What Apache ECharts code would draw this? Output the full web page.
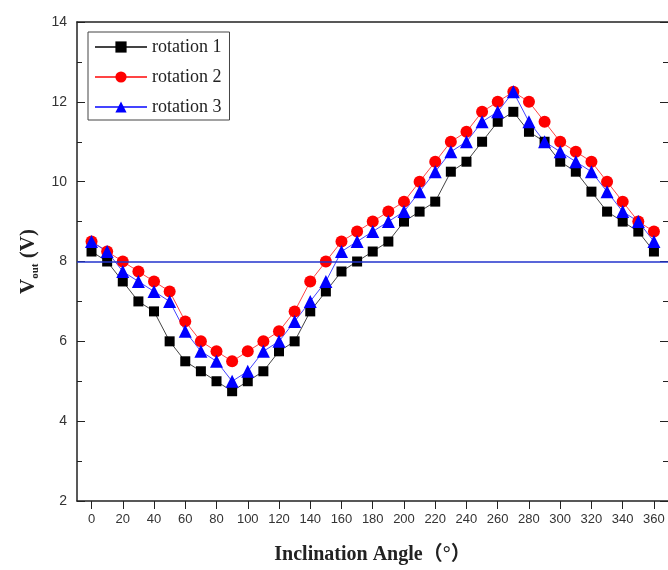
<!DOCTYPE html>
<html>
<head>
<meta charset="utf-8">
<script src="https://cdn.jsdelivr.net/npm/echarts@6/dist/echarts.min.js"></script>
<style>
html,body{margin:0;padding:0;background:#fff;}
#main{width:668px;height:570px;}
</style>
</head>
<body>
<div id="main"></div>
<script>
var angles = [0,10,20,30,40,50,60,70,80,90,100,110,120,130,140,150,160,170,180,
	190,200,210,220,230,240,250,260,270,280,290,300,310,320,330,340,350,360];
var rotation1 = [8.25,8.0,7.5,7.0,6.75,6.0,5.5,5.25,5.0,4.75,5.0,5.25,5.75,6.0,6.75,7.25,7.75,8.0,8.25,
	8.5,9.0,9.25,9.5,10.25,10.5,11.0,11.5,11.75,11.25,11.0,10.5,10.25,9.75,9.25,9.0,8.75,8.25];
var rotation2 = [8.5,8.25,8.0,7.75,7.5,7.25,6.5,6.0,5.75,5.5,5.75,6.0,6.25,6.75,7.5,8.0,8.5,8.75,9.0,
	9.25,9.5,10.0,10.5,11.0,11.25,11.75,12.0,12.25,12.0,11.5,11.0,10.75,10.5,10.0,9.5,9.0,8.75];
var rotation3 = [8.5,8.25,7.75,7.5,7.25,7.0,6.25,5.75,5.5,5.0,5.25,5.75,6.0,6.5,7.0,7.5,8.25,8.5,8.75,
	9.0,9.25,9.75,10.25,10.75,11.0,11.5,11.75,12.25,11.5,11.0,10.75,10.5,10.25,9.75,9.25,9.0,8.5];
var xTicks = [0,20,40,60,80,100,120,140,160,180,200,220,240,260,280,300,320,340,360];
var refLine = 8;

function pairs(vals) {
	var out = [];
	for (var i = 0; i < angles.length; i++) out.push([angles[i], vals[i]]);
	return out;
}

var chart = echarts.init(document.getElementById('main'));
var option = {
	animation: false,
	backgroundColor: '#fff',
	grid: { left: 77, right: 0, top: 22, bottom: 66 },
	legend: {
		orient: 'vertical',
		left: 88,
		top: 32,
		padding: [6, 8, 4, 6],
		itemGap: 12,
		itemWidth: 52,
		itemHeight: 14,
		borderColor: '#444',
		borderWidth: 1,
		textStyle: { fontFamily: 'Liberation Serif', fontSize: 18, color: '#222' },
		data: ['rotation 1', 'rotation 2', 'rotation 3']
	},
	xAxis: [{
		type: 'value',
		min: -9.3,
		max: 369,
		name: 'Inclination Angle（°）',
		nameLocation: 'middle',
		nameGap: 44,
		nameTextStyle: { fontFamily: 'Liberation Serif, Noto Sans CJK SC', fontWeight: 'bold', fontSize: 20, color: '#222' },
		axisLine: { lineStyle: { color: '#222', width: 1.5 } },
		axisTick: { show: true, inside: false, length: 8, customValues: xTicks, lineStyle: { color: '#222' } },
		axisLabel: { customValues: xTicks, fontFamily: 'Liberation Sans Narrow, Liberation Sans', fontSize: 13, color: '#333', margin: 12 },
		splitLine: { show: false }
	}, {
		type: 'value',
		position: 'top',
		min: -9.3,
		max: 369,
		axisLine: { onZero: false, lineStyle: { color: '#222', width: 1.5 } },
		axisTick: { show: false },
		axisLabel: { show: false },
		splitLine: { show: false }
	}],
	yAxis: [{
		type: 'value',
		min: 2,
		max: 14,
		interval: 2,
		name: '{v|V}{s|out}{v| (V)}',
		nameLocation: 'middle',
		nameGap: 34,
		nameTextStyle: {
			rich: {
				v: { fontFamily: 'Liberation Serif, Noto Sans CJK SC', fontWeight: 'bold', fontSize: 21, color: '#222' },
				s: { fontFamily: 'Liberation Serif', fontWeight: 'bold', fontSize: 11, color: '#222', padding: [12, 0, 0, 0] }
			}
		},
		axisLine: { onZero: false, lineStyle: { color: '#222', width: 1.5 } },
		axisTick: { inside: true, length: 8, lineStyle: { color: '#222' } },
		minorTick: { show: true, splitNumber: 2, length: 5, lineStyle: { color: '#222' } },
		axisLabel: { fontFamily: 'Liberation Sans', fontSize: 14, color: '#333', margin: 10 },
		splitLine: { show: false }
	}, {
		type: 'value',
		position: 'right',
		min: 2,
		max: 14,
		interval: 2,
		axisLine: { show: false, onZero: false },
		axisTick: { show: true, inside: true, length: 8, lineStyle: { color: '#222' } },
		minorTick: { show: true, splitNumber: 2, length: 5, lineStyle: { color: '#222' } },
		axisLabel: { show: false },
		splitLine: { show: false }
	}],
	series: [{
		name: 'rotation 1',
		type: 'line',
		data: pairs(rotation1),
		symbol: 'rect',
		symbolSize: 10,
		itemStyle: { color: '#000' },
		lineStyle: { color: '#444', width: 1 }
	}, {
		name: 'rotation 2',
		type: 'line',
		data: pairs(rotation2),
		symbol: 'circle',
		symbolSize: 12,
		itemStyle: { color: '#f00' },
		lineStyle: { color: '#f44', width: 1 }
	}, {
		name: 'rotation 3',
		type: 'line',
		data: pairs(rotation3),
		symbol: 'triangle',
		symbolSize: 13,
		itemStyle: { color: '#00f' },
		lineStyle: { color: '#44f', width: 1 },
		markLine: {
			silent: true,
			symbol: 'none',
			label: { show: false },
			lineStyle: { color: '#2233cc', width: 1.5, type: 'solid' },
			data: [{ yAxis: refLine }]
		}
	}]
};
chart.setOption(option);
</script>
</body>
</html>
